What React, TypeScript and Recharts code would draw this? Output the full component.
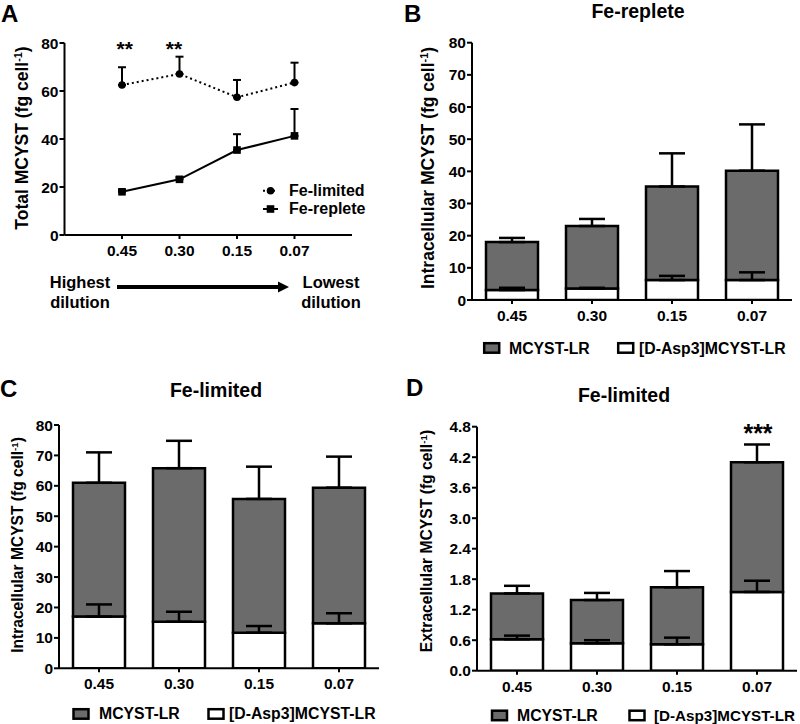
import React from 'react';
import { ComposedChart, LineChart, Line, Bar, XAxis, YAxis, ErrorBar } from 'recharts';

const FONT = '"Liberation Sans", Arial, Helvetica, sans-serif';
const GRAY = '#6b6b6b';

// ---------- shared categories ----------
const dilutions = ['0.45', '0.30', '0.15', '0.07'];
const dilutionPos = [1, 2, 3, 4];

// ---------- Panel A: total MCYST ----------
const feLimitedTotal = [62.5, 67.1, 57.4, 63.5];
const feLimitedTotalSD = [7.4, 7.2, 7.2, 8.3];
const feRepleteTotal = [18.0, 23.2, 35.4, 41.3];
const feRepleteTotalSD = [0.8, 0.9, 6.6, 11.2];
const totalTicks = [0, 20, 40, 60, 80];

// ---------- Panel B: Fe-replete intracellular ----------
const bMcystLR = [14.9, 19.4, 29.1, 34.0];
const bMcystLRSD = [1.3, 2.2, 10.3, 14.4];
const bDAsp = [3.1, 3.6, 6.2, 6.2];
const bDAspSD = [0.7, 0.2, 1.3, 2.4];

// ---------- Panel C: Fe-limited intracellular ----------
const cMcystLR = [44.0, 50.5, 44.0, 44.6];
const cMcystLRSD = [10.0, 9.0, 10.6, 10.2];
const cDAsp = [17.0, 15.3, 11.7, 14.8];
const cDAspSD = [4.0, 3.3, 2.2, 3.3];

// ---------- Panel D: Fe-limited extracellular ----------
const dMcystLR = [0.90, 0.85, 1.12, 2.55];
const dMcystLRSD = [0.15, 0.14, 0.32, 0.35];
const dDAsp = [0.62, 0.54, 0.52, 1.55];
const dDAspSD = [0.07, 0.06, 0.13, 0.22];

const intraTicks = [0, 10, 20, 30, 40, 50, 60, 70, 80];
const extraTicks = [0, 0.6, 1.2, 1.8, 2.4, 3.0, 3.6, 4.2, 4.8];

const lineData = dilutionPos.map((x, i) => ({
  x,
  lim: feLimitedTotal[i],
  limErr: [0, feLimitedTotalSD[i]],
  rep: feRepleteTotal[i],
  repErr: [0, feRepleteTotalSD[i]],
}));

const buildBars = (lr: number[], lrSd: number[], asp: number[], aspSd: number[]) =>
  dilutions.map((d, i) => ({
    d,
    asp: asp[i],
    lr: lr[i],
    top: asp[i] + lr[i],
    topErr: [0, lrSd[i]],
    aspErr: [0, aspSd[i]],
  }));

const dataB = buildBars(bMcystLR, bMcystLRSD, bDAsp, bDAspSD);
const dataC = buildBars(cMcystLR, cMcystLRSD, cDAsp, cDAspSD);
const dataD = buildBars(dMcystLR, dMcystLRSD, dDAsp, dDAspSD);

const tickText = { fill: '#000', fontSize: 15.5, fontWeight: 700, fontFamily: FONT };
const axLine = { stroke: '#000', strokeWidth: 2 };

const SquareDot = (props: any) => {
  const { cx, cy, index } = props;
  if (cx == null || cy == null) return <g key={'sq' + index} />;
  return <rect key={'sq' + index} x={cx - 3.8} y={cy - 3.8} width={7.6} height={7.6} fill="#000" />;
};

type BarPanelProps = {
  data: any[];
  ticks: number[];
  width: number;
  height: number;
  margin: { top: number; right: number; bottom: number; left: number };
  fmt?: (v: number) => string;
};

function BarPanel({ data, ticks, width, height, margin, fmt }: BarPanelProps) {
  return (
    <ComposedChart width={width} height={height} data={data} margin={margin}>
      <XAxis
        dataKey="d"
        interval={0}
        height={30}
        tick={tickText}
        tickLine={axLine}
        axisLine={axLine}
        tickSize={4}
        tickMargin={6}
      />
      <YAxis
        type="number"
        domain={[ticks[0], ticks[ticks.length - 1]]}
        ticks={ticks}
        interval={0}
        width={40}
        tick={tickText}
        tickLine={axLine}
        axisLine={axLine}
        tickSize={5}
        tickMargin={1}
        tickFormatter={fmt}
        allowDataOverflow
      />
      <Bar dataKey="asp" stackId="s" fill="#ffffff" stroke="#000" strokeWidth={2.5} barSize={52} isAnimationActive={false} />
      <Bar dataKey="lr" stackId="s" fill={GRAY} stroke="#000" strokeWidth={2.5} barSize={52} isAnimationActive={false} />
      <Line dataKey="top" stroke="none" dot={false} activeDot={false} isAnimationActive={false} legendType="none">
        <ErrorBar dataKey="topErr" direction="y" width={13} stroke="#000" strokeWidth={2.5} isAnimationActive={false} />
      </Line>
      <Line dataKey="asp" stroke="none" dot={false} activeDot={false} isAnimationActive={false} legendType="none">
        <ErrorBar dataKey="aspErr" direction="y" width={13} stroke="#000" strokeWidth={2.5} isAnimationActive={false} />
      </Line>
    </ComposedChart>
  );
}

const Txt = ({ x, y, fs, children, center, lh }: any) => (
  <div
    style={{
      position: 'absolute',
      left: x,
      top: y,
      fontSize: fs,
      lineHeight: lh ? lh + 'px' : 1,
      fontWeight: 700,
      fontFamily: FONT,
      whiteSpace: 'nowrap',
      color: '#000',
      textAlign: center ? 'center' : 'left',
      transform: center ? 'translateX(-50%)' : undefined,
    }}
  >
    {children}
  </div>
);

const RotLabel = ({ cx, cy, fs, children }: any) => (
  <div
    style={{
      position: 'absolute',
      left: cx,
      top: cy,
      fontSize: fs,
      lineHeight: 1,
      fontWeight: 700,
      fontFamily: FONT,
      whiteSpace: 'nowrap',
      color: '#000',
      transform: 'translate(-50%, -50%) rotate(-90deg)',
    }}
  >
    {children}
  </div>
);

const Sup = () => <sup style={{ fontSize: '0.62em', verticalAlign: '0.55em', lineHeight: 0 }}>-1</sup>;

export default function App() {
  return (
    <div style={{ position: 'absolute', left: 0, top: 0, width: 800, height: 724, background: '#fff', overflow: 'hidden' }}>
      {/* Panel A */}
      <div style={{ position: 'absolute', left: 0, top: 0 }}>
        <LineChart width={400} height={330} data={lineData} margin={{ top: 43, right: 48, bottom: 65, left: 24.5 }}>
          <XAxis
            type="number"
            dataKey="x"
            domain={[0, 5]}
            ticks={dilutionPos}
            interval={0}
            tickFormatter={(v: number) => dilutions[v - 1]}
            height={30}
            tick={tickText}
            tickLine={axLine}
            axisLine={axLine}
            tickSize={4}
            tickMargin={6}
          />
          <YAxis
            type="number"
            domain={[0, 80]}
            ticks={totalTicks}
            interval={0}
            width={40}
            tick={tickText}
            tickLine={axLine}
            axisLine={axLine}
            tickSize={5}
            tickMargin={1}
          />
          <Line
            dataKey="lim"
            stroke="#000"
            strokeWidth={2}
            strokeDasharray="2 3"
            dot={{ r: 3.8, fill: '#000', stroke: '#000', strokeWidth: 0 }}
            activeDot={false}
            isAnimationActive={false}
          >
            <ErrorBar dataKey="limErr" direction="y" width={4} stroke="#000" strokeWidth={2} isAnimationActive={false} />
          </Line>
          <Line
            dataKey="rep"
            stroke="#000"
            strokeWidth={2}
            dot={SquareDot}
            activeDot={false}
            isAnimationActive={false}
          >
            <ErrorBar dataKey="repErr" direction="y" width={4} stroke="#000" strokeWidth={2} isAnimationActive={false} />
          </Line>
        </LineChart>
      </div>

      {/* Panel B */}
      <div style={{ position: 'absolute', left: 400, top: 0 }}>
        <BarPanel data={dataB} ticks={intraTicks} width={400} height={330} margin={{ top: 42.7, right: 8, bottom: 0, left: 32 }} />
      </div>

      {/* Panel C */}
      <div style={{ position: 'absolute', left: 0, top: 330 }}>
        <BarPanel data={dataC} ticks={intraTicks} width={400} height={394} margin={{ top: 95, right: 21, bottom: 25.7, left: 19 }} />
      </div>

      {/* Panel D */}
      <div style={{ position: 'absolute', left: 400, top: 330 }}>
        <BarPanel
          data={dataD}
          ticks={extraTicks}
          width={400}
          height={394}
          margin={{ top: 96.7, right: 3, bottom: 23.3, left: 37 }}
          fmt={(v: number) => v.toFixed(1)}
        />
      </div>

      {/* overlay graphics: legend icons and arrow */}
      <svg width={800} height={724} style={{ position: 'absolute', left: 0, top: 0, pointerEvents: 'none' }}>
        {/* Panel A legend icons */}
        <line x1={263} y1={190.7} x2={278} y2={190.7} stroke="#000" strokeWidth={2} strokeDasharray="2 3" />
        <circle cx={270.5} cy={190.7} r={3.8} fill="#000" />
        <line x1={263} y1={209} x2={278} y2={209} stroke="#000" strokeWidth={2} />
        <rect x={266.7} y={205.2} width={7.6} height={7.6} fill="#000" />
        {/* arrow */}
        <line x1={117} y1={287} x2={280} y2={287} stroke="#000" strokeWidth={4} />
        <polygon points="278,281.5 289,287 278,292.5" fill="#000" />
        {/* legend B */}
        <rect x={484.2} y={343.2} width={15} height={9.5} fill={GRAY} stroke="#000" strokeWidth={2.5} />
        <rect x={618.2} y={343.2} width={15} height={9.5} fill="#fff" stroke="#000" strokeWidth={2.5} />
        {/* legend C */}
        <rect x={73.5} y={709.2} width={15} height={9.5} fill={GRAY} stroke="#000" strokeWidth={2.5} />
        <rect x={208.5} y={709.2} width={15} height={9.5} fill="#fff" stroke="#000" strokeWidth={2.5} />
        {/* legend D */}
        <rect x={492} y={710.7} width={15} height={9.5} fill={GRAY} stroke="#000" strokeWidth={2.5} />
        <rect x={629.5} y={710.7} width={15} height={9.5} fill="#fff" stroke="#000" strokeWidth={2.5} />
      </svg>

      {/* panel letters */}
      <Txt x={1} y={2} fs={24}>A</Txt>
      <Txt x={404} y={2} fs={24}>B</Txt>
      <Txt x={0} y={377} fs={24}>C</Txt>
      <Txt x={406} y={375.5} fs={24}>D</Txt>

      {/* titles */}
      <Txt x={638} y={1.5} fs={19.5} center>Fe-replete</Txt>
      <Txt x={216} y={380.5} fs={19.5} center>Fe-limited</Txt>
      <Txt x={624} y={386} fs={19.5} center>Fe-limited</Txt>

      {/* y-axis titles */}
      <RotLabel cx={23} cy={138} fs={17.5}>Total MCYST (fg cell<Sup />)</RotLabel>
      <RotLabel cx={429} cy={167.5} fs={17.5}>Intracellular MCYST (fg cell<Sup />)</RotLabel>
      <RotLabel cx={18} cy={545} fs={15.6}>Intracellular MCYST (fg cell<Sup />)</RotLabel>
      <RotLabel cx={427} cy={541} fs={15.7}>Extracellular MCYST (fg cell<Sup />)</RotLabel>

      {/* significance marks */}
      <Txt x={124.7} y={37.8} fs={21} center>**</Txt>
      <Txt x={174} y={37.8} fs={21} center>**</Txt>
      <Txt x={758} y={420.6} fs={25} center>***</Txt>

      {/* panel A legend text */}
      <Txt x={289} y={182.9} fs={16}>Fe-limited</Txt>
      <Txt x={289} y={201.2} fs={16}>Fe-replete</Txt>

      {/* dilution arrow text */}
      <Txt x={80} y={272.3} fs={16.5} lh={20} center>Highest<br />dilution</Txt>
      <Txt x={331} y={272.3} fs={16.5} lh={20} center>Lowest<br />dilution</Txt>

      {/* bar legends */}
      <Txt x={509} y={340.8} fs={15.8}>MCYST-LR</Txt>
      <Txt x={639} y={340.8} fs={15.8}>[D-Asp3]MCYST-LR</Txt>
      <Txt x={99} y={706.2} fs={15.8}>MCYST-LR</Txt>
      <Txt x={229} y={706.2} fs={15.8}>[D-Asp3]MCYST-LR</Txt>
      <Txt x={517} y={707.7} fs={15.8}>MCYST-LR</Txt>
      <Txt x={654} y={708} fs={15.2}>[D-Asp3]MCYST-LR</Txt>
    </div>
  );
}
